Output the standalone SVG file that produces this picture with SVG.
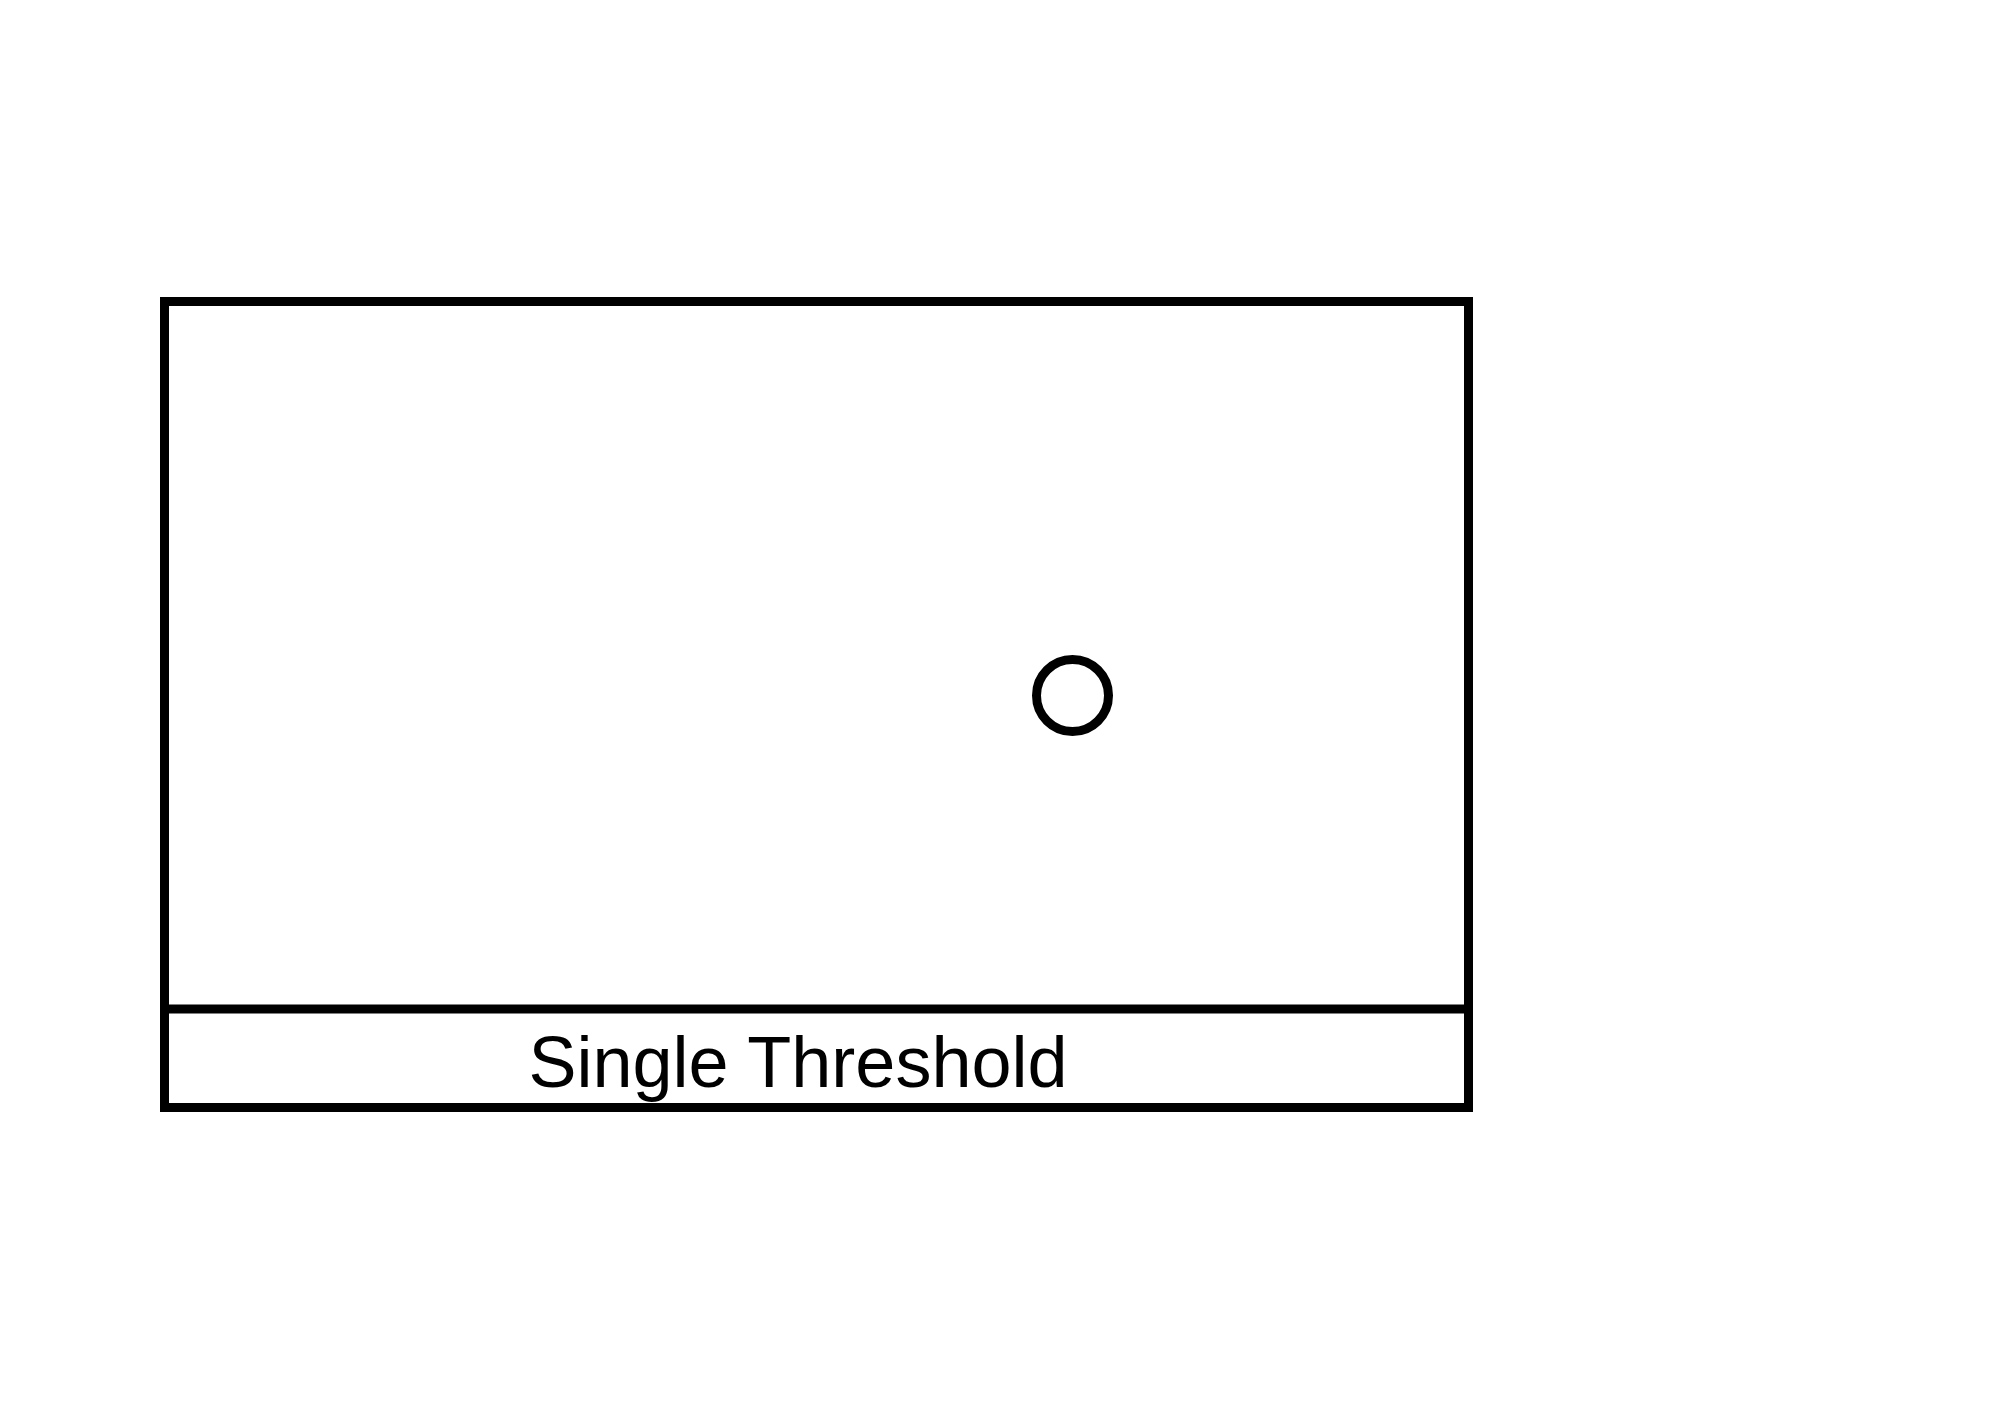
<svg xmlns="http://www.w3.org/2000/svg" width="2008" height="1426" viewBox="0 0 2008 1426">
<style>
.ln{fill:none;stroke:#000;stroke-width:9}
.lbl{font-family:"Liberation Sans",Arial,sans-serif;font-size:72px;fill:#000}
</style>
<rect width="2008" height="1426" fill="#fff"/>
<g id="threshold-box">
<rect class="ln" x="164.5" y="301.5" width="1304" height="806"/>
<line class="ln" x1="169" y1="1009" x2="1464" y2="1009"/>
<text class="lbl" x="798" y="1087" text-anchor="middle">Single Threshold</text>
</g>
<g id="marker-circle">
<circle class="ln" cx="1072.5" cy="695.5" r="36"/>
</g>
<g id="connectors"></g>
</svg>
